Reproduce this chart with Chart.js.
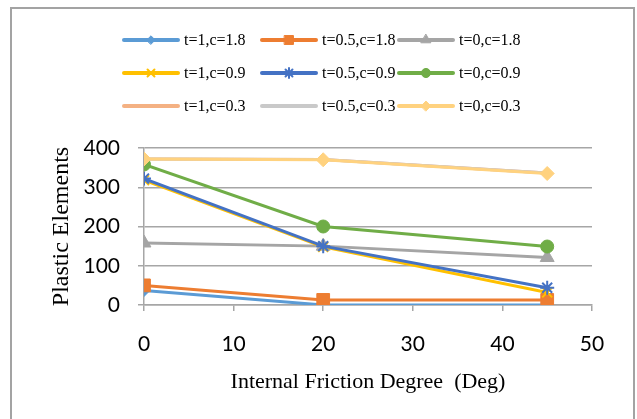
<!DOCTYPE html>
<html>
<head>
<meta charset="utf-8">
<script src="https://cdn.jsdelivr.net/npm/chart.js@4/dist/chart.umd.min.js"></script>
<style>
  html, body { margin: 0; padding: 0; background: #fff; }
  #wrap { width: 637px; height: 419px; position: relative; }
</style>
</head>
<body>
<div id="wrap"><canvas id="lineChart" width="637" height="419"></canvas></div>
<script>
'use strict';

// data
var degrees = [0, 20, 45];
var seriesNames = ['t=1,c=1.8', 't=0.5,c=1.8', 't=0,c=1.8',
                   't=1,c=0.9', 't=0.5,c=0.9', 't=0,c=0.9',
                   't=1,c=0.3', 't=0.5,c=0.3', 't=0,c=0.3'];
var t1c18  = [37, 0, 0];
var t05c18 = [50, 13, 13];
var t0c18  = [158, 150, 121];
var t1c09  = [318, 148, 32];
var t05c09 = [322, 150, 44];
var t0c09  = [358, 200, 149];
var t1c03  = [372, 371, 336];
var t05c03 = [372, 371, 336];
var t0c03  = [372, 370, 335];
var xTicks = [0, 10, 20, 30, 40, 50];
var yTicks = [0, 100, 200, 300, 400];

var seriesValues = [t1c18, t05c18, t0c18, t1c09, t05c09, t0c09, t1c03, t05c03, t0c03];
var colors = ['#5B9BD5', '#ED7D31', '#A5A5A5', '#FFC000', '#4472C4', '#70AD47', '#F4B183', '#C9C9C9', '#FFD27F'];
var markers = ['rectRot', 'rect', 'triangle', 'crossRot', 'star', 'circle', false, false, 'rectRot'];
var markerSize = [6, 9, 8, 7, 7, 6.5, 0, 0, 7];

var serif = '"Liberation Serif", "Times New Roman", serif';
var sans = 'Lato, "Open Sans", sans-serif';

var datasets = seriesNames.map(function (name, i) {
  return {
    label: name,
    data: seriesValues[i].map(function (v, j) { return { x: degrees[j], y: v }; }),
    borderColor: colors[i],
    backgroundColor: colors[i],
    borderWidth: 3,
    pointStyle: markers[i] || 'circle',
    pointRadius: markerSize[i],
    pointBorderWidth: (markers[i] === 'crossRot' || markers[i] === 'star') ? 2 : 1,
    pointBackgroundColor: colors[i],
    pointBorderColor: colors[i],
    tension: 0,
    order: 20 - i   // later series on top, like the original
  };
});

// outer grey frame
var framePlugin = {
  id: 'frame',
  beforeDraw: function (chart) {
    var ctx = chart.ctx;
    ctx.save();
    ctx.fillStyle = '#fff';
    ctx.fillRect(0, 0, chart.width, chart.height);
    ctx.strokeStyle = '#a3a3a3';
    ctx.lineWidth = 2;
    ctx.strokeRect(11, 8, 623, 440);
    ctx.restore();
  }
};

// 3 x 3 legend grid
var gridLegend = {
  id: 'gridLegend',
  afterDraw: function (chart) {
    var ctx = chart.ctx;
    var colX = [124, 262, 399];
    var rowY = [40, 73, 106];
    ctx.save();
    chart.data.datasets.forEach(function (ds, i) {
      var x = colX[i % 3], y = rowY[Math.floor(i / 3)];
      ctx.strokeStyle = ds.borderColor;
      ctx.lineWidth = 4;
      ctx.lineCap = 'round';
      ctx.beginPath();
      ctx.moveTo(x, y);
      ctx.lineTo(x + 54, y);
      ctx.stroke();
      if (markers[i]) {
        ctx.fillStyle = ds.borderColor;
        ctx.lineWidth = ds.pointBorderWidth;
        Chart.helpers.drawPoint(ctx, { pointStyle: markers[i], radius: markerSize[i] * 0.7, rotation: 0, borderWidth: ds.pointBorderWidth }, x + 27, y);
      }
      ctx.fillStyle = '#000';
      ctx.font = '16px ' + serif;
      ctx.textBaseline = 'middle';
      ctx.textAlign = 'left';
      ctx.fillText(ds.label, x + 60, y + 1);
    });
    ctx.restore();
  }
};

var ctx = document.getElementById('lineChart').getContext('2d');
var chart = new Chart(ctx, {
  type: 'line',
  data: { datasets: datasets },
  options: {
    responsive: false,
    animation: false,
    layout: { padding: { left: 44, right: 45, top: 148, bottom: 0 } },
    plugins: {
      legend: { display: false },
      tooltip: { enabled: false }
    },
    scales: {
      x: {
        type: 'linear',
        min: 0,
        max: 50,
        afterBuildTicks: function (scale) {
          scale.ticks = xTicks.map(function (v) { return { value: v }; });
        },
        afterFit: function (scale) { scale.height = 114; },
        grid: { drawOnChartArea: false, drawTicks: true, tickLength: 6, color: '#a6a6a6', lineWidth: 1.5 },
        border: { display: true, color: '#a6a6a6', width: 1.5 },
        ticks: { color: '#000', padding: 21, font: { family: sans, size: 21 } },
        title: {
          display: true,
          text: 'Internal Friction Degree  (Deg)',
          color: '#000',
          font: { family: serif, size: 22 },
          padding: { top: 0, bottom: 24 }
        }
      },
      y: {
        min: 0,
        max: 400,
        afterBuildTicks: function (scale) {
          scale.ticks = yTicks.map(function (v) { return { value: v }; });
        },
        afterFit: function (scale) { scale.width = 100; },
        grid: { drawOnChartArea: true, drawTicks: true, tickLength: 6, color: '#a6a6a6', lineWidth: 1.5 },
        border: { display: true, color: '#a6a6a6', width: 1.5 },
        ticks: { color: '#000', padding: 18, font: { family: sans, size: 21 } },
        title: {
          display: true,
          text: 'Plastic Elements',
          color: '#000',
          font: { family: serif, size: 24 },
          padding: { top: 3, bottom: 0 }
        }
      }
    }
  },
  plugins: [framePlugin, gridLegend]
});
</script>
</body>
</html>
